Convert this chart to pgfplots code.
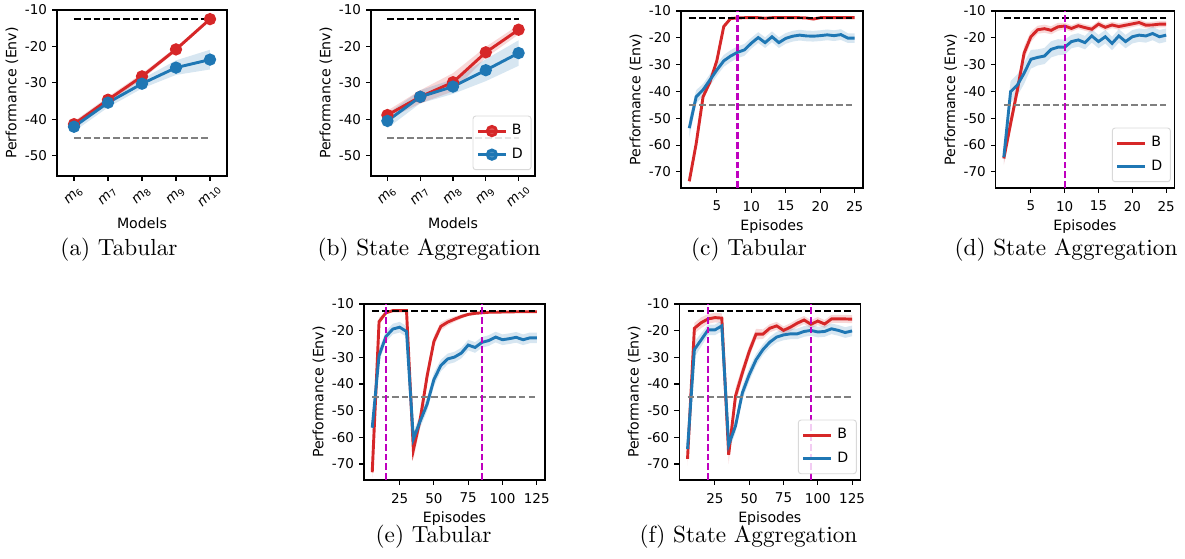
\documentclass[border=0pt]{standalone}
\usepackage{fontspec}
\usepackage{pgfplots}
\pgfplotsset{compat=1.18}
\usepackage{pgfplotstable}
\usepgfplotslibrary{fillbetween}
\newfontfamily\djsans{DejaVu Sans}
\definecolor{tred}{HTML}{D62728}
\definecolor{tblue}{HTML}{1F77B4}
\definecolor{mag}{HTML}{BF00BF}
\newcommand\axf{\djsans\fontsize{5.8}{6.6}\selectfont}
\newcommand\labf{\djsans\fontsize{6.1}{7}\selectfont}

% tables: x, red mean, red half-band, blue mean, blue half-band
\pgfplotstableread{
x r re b be
0 -41.3 0.8 -42.0 1.3
1 -34.6 0.8 -35.4 1.3
2 -28.2 0.8 -30.2 1.3
3 -20.8 0.6 -25.8 2.0
4 -12.5 0.4 -23.6 2.7
}\tA
\pgfplotstableread{
x r re b be
0 -38.8 1.2 -40.4 2.0
1 -33.8 1.8 -33.8 1.8
2 -29.8 2.5 -31.0 2.0
3 -21.6 1.5 -26.5 3.0
4 -15.4 1.3 -21.8 3.5
}\tB
\pgfplotstableread{
x r re b be
1 -73.5 1.5 -53.7 3.5
2 -59.5 1.5 -42.0 2.5
3 -42.0 1.2 -39.4 2.2
4 -36.5 1.2 -35.7 2.2
5 -28.5 1.2 -32.0 2.2
6 -15.8 1.0 -28.6 2.2
7 -12.8 0.5 -26.8 2.2
8 -12.6 0.3 -25.4 2.2
9 -12.5 0.3 -24.5 2.2
10 -12.5 0.3 -22.0 2.0
11 -12.5 0.3 -19.9 2.0
12 -12.7 0.3 -21.8 2.0
13 -12.5 0.3 -19.6 2.0
14 -12.5 0.3 -21.8 2.0
15 -12.5 0.3 -20.2 2.0
16 -12.5 0.3 -19.4 2.0
17 -12.5 0.3 -19.0 2.0
18 -12.6 0.3 -19.3 2.0
19 -13.0 0.4 -19.4 2.0
20 -12.5 0.3 -19.2 2.0
21 -12.5 0.3 -18.9 2.0
22 -12.5 0.3 -19.2 2.0
23 -12.5 0.3 -18.8 2.0
24 -12.5 0.3 -20.1 1.8
25 -12.5 0.3 -20.1 1.8
}\tC
\pgfplotstableread{
x r re b be
1 -65.0 2.5 -64.5 2.5
2 -52.0 3.0 -40.1 4.0
3 -39.5 3.0 -37.6 4.0
4 -25.7 2.5 -33.2 4.0
5 -19.6 2.0 -28.0 3.5
6 -17.0 1.5 -27.3 3.0
7 -16.6 1.5 -26.8 3.0
8 -17.2 1.5 -24.3 3.0
9 -15.9 1.5 -23.5 3.0
10 -15.6 1.2 -23.5 2.8
11 -16.5 1.2 -21.4 2.5
12 -15.5 1.2 -20.8 2.5
13 -16.2 1.2 -21.8 2.5
14 -16.8 1.2 -19.3 2.5
15 -14.9 1.2 -21.4 2.5
16 -16.1 1.2 -19.6 2.5
17 -15.2 1.2 -22.1 2.5
18 -15.8 1.2 -19.3 2.5
19 -15.3 1.2 -21.4 2.5
20 -14.8 1.2 -19.6 2.5
21 -14.3 1.2 -19.0 2.5
22 -15.3 1.2 -19.3 2.5
23 -15.2 1.2 -18.4 2.5
24 -14.9 1.2 -19.6 2.5
25 -14.9 1.2 -19.0 2.5
}\tD
\pgfplotstableread{
x r re b be
5 -73.1 2.0 -56.4 3.0
10 -16.6 1.5 -29.3 2.5
15 -13.3 0.5 -22.2 2.0
20 -12.5 0.3 -19.4 2.0
25 -12.5 0.3 -18.7 2.0
30 -12.5 0.3 -20.3 2.0
35 -64.7 3.5 -60.6 2.5
40 -53.2 3.0 -53.9 2.5
45 -37.1 2.5 -47.6 2.5
50 -24.0 2.0 -38.3 2.5
55 -18.4 1.5 -33.1 2.2
60 -16.8 1.2 -30.6 2.0
65 -15.7 1.0 -29.9 2.0
70 -14.7 0.8 -28.4 2.0
75 -13.9 0.6 -25.4 2.0
80 -13.5 0.5 -26.3 2.0
85 -13.3 0.5 -24.4 2.0
90 -13.1 0.4 -23.7 2.0
95 -13.1 0.4 -22.4 2.0
100 -13.0 0.4 -23.4 2.0
105 -13.0 0.4 -23.0 2.0
110 -12.9 0.4 -22.5 2.0
115 -12.9 0.4 -23.4 2.0
120 -12.9 0.4 -22.7 2.0
125 -12.9 0.4 -22.7 2.0
}\tE
\pgfplotstableread{
x r re b be
5 -68.1 2.5 -64.4 3.0
10 -19.1 2.0 -27.1 3.0
15 -17.0 2.0 -23.4 2.5
20 -15.6 1.8 -19.7 2.0
25 -15.1 1.8 -19.7 2.0
30 -15.3 1.8 -18.2 2.0
35 -66.5 3.5 -62.8 2.5
40 -44.5 3.0 -55.7 2.5
45 -35.8 2.5 -43.3 2.5
50 -27.8 2.2 -36.5 2.5
55 -21.3 2.0 -30.9 2.2
60 -21.3 1.8 -27.1 2.0
65 -19.1 1.5 -24.3 2.0
70 -18.2 1.5 -22.4 2.0
75 -19.9 1.5 -21.6 2.0
80 -18.7 1.5 -21.2 2.0
85 -17.2 1.5 -21.2 2.0
90 -16.0 1.5 -20.3 2.0
95 -17.6 1.5 -19.9 2.0
100 -16.4 1.5 -20.5 2.0
105 -17.5 1.5 -20.3 2.0
110 -15.6 1.5 -19.3 2.0
115 -15.6 1.5 -19.9 2.0
120 -15.6 1.5 -20.7 2.0
125 -15.7 1.5 -20.1 2.0
}\tF

\pgfplotsset{
  panel/.style={
    scale only axis,
    axis line style={line width=0.45pt, black},
    tick align=outside, tick pos=left,
    major tick length=2.1pt,
    every tick/.style={line width=0.45pt, black},
    font=\axf, tick label style={font=\axf, inner sep=0pt},
    yticklabel shift=2pt,
    /pgf/number format/assume math mode=true,
    every axis y label/.style={at={(rel axis cs:0,0.5)}, xshift=-19.4pt, rotate=90, anchor=center, font=\labf},
    every axis x label/.style={at={(rel axis cs:0.5,0)}, yshift=-16.5pt, anchor=center, font=\labf},
    ylabel={Performance (Env)},
    ymax=-10,
  },
  models/.style={panel, ymin=-55.5, ytick={-50,-40,-30,-20,-10},
    xmin=-0.5, xmax=4.5, xtick={0,1,2,3,4},
    xticklabels={{\itshape m}\textsubscript{6},{\itshape m}\textsubscript{7},{\itshape m}\textsubscript{8},{\itshape m}\textsubscript{9},{\itshape m}\textsubscript{10}},
    xticklabel style={rotate=45, anchor=center}, xticklabel shift=6.5pt,
    xlabel={Models}, xlabel style={yshift=-3.7pt}},
  episodes/.style={panel, ymin=-76, ytick={-70,-60,-50,-40,-30,-20,-10},
    xticklabel shift=3.3pt,
    xlabel={Episodes}},
  rline/.style={tred, line width=1.25pt},
  bline/.style={tblue, line width=1.25pt},
  hl/.style={line width=0.9pt, dash pattern=on 2.9pt off 1.3pt, forget plot},
  leg/.style={legend style={at={(rel axis cs:1,0)}, anchor=south east,
    xshift=-1.5pt, yshift=2.5pt, draw=black!15, rounded corners=1.2pt,
    fill=white, fill opacity=0.8, text opacity=1, font=\labf,
    inner sep=1.5pt, row sep=0.2pt},
    legend cell align=left},
}
\newcommand\band[3]{%
  \addplot[draw=none, name path=up#2, forget plot] table[x=x, y expr=\thisrow{#2}+\thisrow{#2e}] {#1};
  \addplot[draw=none, name path=lo#2, forget plot] table[x=x, y expr=\thisrow{#2}-\thisrow{#2e}] {#1};
  \addplot[fill=#3, fill opacity=0.18, draw=none, forget plot] fill between[of=up#2 and lo#2];
}

\begin{document}
\begin{tikzpicture}

% (a)
\begin{axis}[models, at={(24.51pt,-4.3pt)}, anchor=north west, width=73.1pt, height=71.38pt]
\band{\tA}{r}{tred}
\band{\tA}{b}{tblue}
\addplot[rline, mark=*, mark size=2.0pt] table[x=x, y=r] {\tA};
\addplot[bline, mark=*, mark size=2.0pt] table[x=x, y=b] {\tA};
\addplot[hl, black] coordinates {(0,-12.5) (4,-12.5)};
\addplot[hl, gray] coordinates {(0,-45) (4,-45)};
\end{axis}

% (b)
\begin{axis}[models, leg, at={(159.53pt,-4.3pt)}, anchor=north west, width=70.52pt, height=71.38pt,
  legend image code/.code={\draw[mark repeat=2, mark phase=2] plot coordinates {(0pt,0pt) (6pt,0pt) (12pt,0pt)};}]
\band{\tB}{r}{tred}
\band{\tB}{b}{tblue}
\addplot[rline, mark=*, mark size=2.0pt] table[x=x, y=r] {\tB};
\addplot[bline, mark=*, mark size=2.0pt] table[x=x, y=b] {\tB};
\addplot[hl, black] coordinates {(0,-12.5) (4,-12.5)};
\addplot[hl, gray] coordinates {(0,-45) (4,-45)};
\legend{B, D}
\end{axis}

% (c)
\begin{axis}[episodes, at={(292.83pt,-4.73pt)}, anchor=north west, width=78.26pt, height=76.11pt,
  xmin=-0.2, xmax=26.2, xtick={5,10,15,20,25}]
\band{\tC}{r}{tred}
\band{\tC}{b}{tblue}
\addplot[rline] table[x=x, y=r] {\tC};
\addplot[bline] table[x=x, y=b] {\tC};
\addplot[hl, black] coordinates {(1,-12.5) (25,-12.5)};
\addplot[hl, gray] coordinates {(1,-45) (25,-45)};
\addplot[hl, mag] coordinates {(8,-76) (8,-10)};
\end{axis}

% (d)
\begin{axis}[episodes, leg, at={(428.15pt,-4.73pt)}, anchor=north west, width=76.8pt, height=76.11pt,
  xmin=-0.2, xmax=26.2, xtick={5,10,15,20,25},
  legend image code/.code={\draw (0pt,0pt) -- (12pt,0pt);}]
\band{\tD}{r}{tred}
\band{\tD}{b}{tblue}
\addplot[rline] table[x=x, y=r] {\tD};
\addplot[bline] table[x=x, y=b] {\tD};
\addplot[hl, black] coordinates {(1,-12.5) (25,-12.5)};
\addplot[hl, gray] coordinates {(1,-45) (25,-45)};
\addplot[hl, mag] coordinates {(10,-76) (10,-10)};
\legend{B, D}
\end{axis}

% (e)
\begin{axis}[episodes, at={(156.52pt,-130.72pt)}, anchor=north west, width=77.83pt, height=75.68pt,
  xmin=-1, xmax=131, xtick={25,50,75,100,125}]
\band{\tE}{r}{tred}
\band{\tE}{b}{tblue}
\addplot[rline] table[x=x, y=r] {\tE};
\addplot[bline] table[x=x, y=b] {\tE};
\addplot[hl, black] coordinates {(5,-12.5) (125,-12.5)};
\addplot[hl, gray] coordinates {(5,-45) (125,-45)};
\addplot[hl, mag] coordinates {(15,-76) (15,-10)};
\addplot[hl, mag] coordinates {(85,-76) (85,-10)};
\end{axis}

% (f)
\begin{axis}[episodes, leg, at={(292.1pt,-130.72pt)}, anchor=north west, width=77.83pt, height=75.68pt,
  xmin=-1, xmax=131, xtick={25,50,75,100,125},
  legend image code/.code={\draw (0pt,0pt) -- (12pt,0pt);}]
\band{\tF}{r}{tred}
\band{\tF}{b}{tblue}
\addplot[rline] table[x=x, y=r] {\tF};
\addplot[bline] table[x=x, y=b] {\tF};
\addplot[hl, black] coordinates {(5,-12.5) (125,-12.5)};
\addplot[hl, gray] coordinates {(5,-45) (125,-45)};
\addplot[hl, mag] coordinates {(20,-76) (20,-10)};
\addplot[hl, mag] coordinates {(95,-76) (95,-10)};
\legend{B, D}
\end{axis}

\begin{scope}[font=\fontsize{10}{12}\selectfont]
\node at (51.17pt,-107.5pt) {(a) Tabular};
\node at (184.47pt,-107.5pt) {(b) State Aggregation};
\node at (322.07pt,-107.5pt) {(c) Tabular};
\node at (458.38pt,-107.5pt) {(d) State Aggregation};
\node at (186.4pt,-230.9pt) {(e) Tabular};
\node at (321.86pt,-230.9pt) {(f) State Aggregation};
\end{scope}

\pgfresetboundingbox
\useasboundingbox (0,0) rectangle (509.55pt,-240.37pt);
\end{tikzpicture}
\end{document}
